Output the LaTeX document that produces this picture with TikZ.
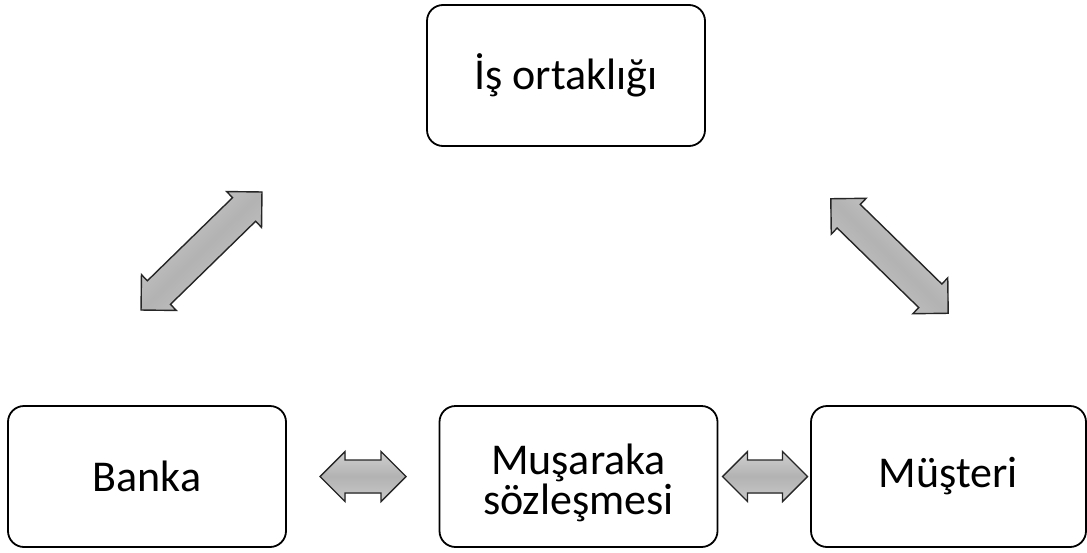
\documentclass[tikz,border=0pt]{standalone}
\usepackage{fontspec}
\setmainfont{Carlito}
\tikzset{
  box/.style={draw,line width=1.8pt,rounded corners=16pt,minimum width=278pt,minimum height=141pt,align=center,font=\fontsize{44}{40}\selectfont},
  okbody/.style={draw=black!85,line width=1.4pt,line join=miter,top color=gray!38,bottom color=gray!42,middle color=gray!60}
}
\newcommand{\dblarrow}[5]{\begin{scope}[shift={(#2,#3)},rotate=#4]\pgfmathsetmacro{\ha}{#5/2}\pgfmathsetmacro{\hb}{#5/2-25}\coordinate (#1) at (0,0);\filldraw[okbody,shading angle=#4] (-\ha,0) -- (-\hb,25) -- (-\hb,16.5) -- (\hb,16.5) -- (\hb,25) -- (\ha,0) -- (\hb,-25) -- (\hb,-16.5) -- (-\hb,-16.5) -- (-\hb,-25) -- cycle;\end{scope}}

\begin{document}
\begin{tikzpicture}[x=1pt,y=1pt]
	\useasboundingbox (0,0) rectangle (1087,-552);

	\node[box] (ortak) at (566,-75.5) {İş ortaklığı};
	\node[box] (banka) at (147,-476.5) {Banka};
	\node[box] (sozlesme) at (578.5,-476.5) {\rule{0pt}{44pt}Muşaraka\\sözleşmesi};
	\node[box,minimum width=275pt] (musteri) at (948.5,-476.5) {Müşteri};

	\dblarrow{ok_banka_ortak}{201.5}{-251}{44.3}{169}
	\dblarrow{ok_ortak_musteri}{889.5}{-256}{-44.3}{164}
	\dblarrow{ok_banka_sozlesme}{363}{-476.5}{0}{86}
	\dblarrow{ok_sozlesme_musteri}{765}{-476.5}{0}{85}
\end{tikzpicture}
\end{document}
